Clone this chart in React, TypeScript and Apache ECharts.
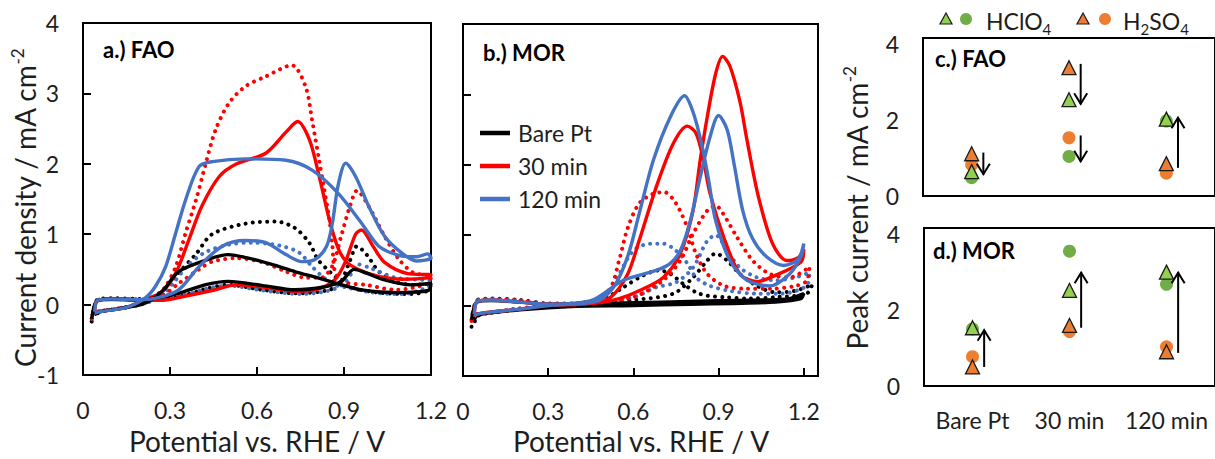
import React, { useEffect, useRef } from "react";
import * as echarts from "echarts";

// ---------- data ----------
const potentialTicks = [0, 0.3, 0.6, 0.9, 1.2];
const categories = ["Bare Pt", "30 min", "120 min"];

// Panel a: FAO cyclic voltammograms [potential V, current mA cm-2], forward then reverse scan
const faoBareHClO4 = [[0.03,-0.2],[0.05,0.06],[0.1,0.08],[0.2,0.07],[0.26,0.1],[0.33,0.16],[0.42,0.28],[0.5,0.33],[0.62,0.27],[0.73,0.21],[0.83,0.25],[0.89,0.33],[0.935,0.5],[0.975,0.45],[1.04,0.35],[1.13,0.28],[1.2,0.3],[1.19,0.2],[1.08,0.17],[0.96,0.21],[0.87,0.31],[0.81,0.38],[0.73,0.47],[0.66,0.56],[0.57,0.66],[0.5,0.71],[0.43,0.64],[0.33,0.47],[0.28,0.22],[0.24,0.08],[0.2,0.0],[0.12,-0.06],[0.06,-0.1],[0.04,-0.14]];
const faoBareH2SO4 = [[0.03,-0.24],[0.05,0.07],[0.1,0.09],[0.2,0.08],[0.27,0.08],[0.33,0.11],[0.42,0.22],[0.5,0.28],[0.62,0.21],[0.73,0.16],[0.85,0.21],[0.89,0.33],[0.92,0.62],[0.945,0.83],[0.98,0.7],[1.02,0.47],[1.08,0.32],[1.14,0.28],[1.2,0.3],[1.19,0.2],[1.13,0.15],[1.02,0.17],[0.93,0.24],[0.88,0.36],[0.85,0.47],[0.81,0.64],[0.78,0.88],[0.73,1.09],[0.665,1.18],[0.56,1.15],[0.445,1.0],[0.39,0.72],[0.33,0.45],[0.28,0.22],[0.22,0.05],[0.15,-0.04],[0.06,-0.1],[0.04,-0.16]];
const fao30HClO4 = [[0.04,-0.12],[0.05,0.05],[0.1,0.07],[0.2,0.06],[0.27,0.06],[0.33,0.1],[0.445,0.2],[0.53,0.28],[0.62,0.25],[0.73,0.19],[0.81,0.22],[0.87,0.36],[0.906,0.62],[0.94,1.0],[0.96,1.06],[1.0,0.83],[1.04,0.6],[1.12,0.44],[1.2,0.42],[1.19,0.38],[1.1,0.36],[1.02,0.4],[0.96,0.48],[0.91,0.6],[0.88,0.8],[0.85,1.2],[0.81,1.9],[0.78,2.35],[0.74,2.6],[0.7,2.45],[0.63,2.15],[0.53,2.0],[0.47,1.82],[0.41,1.4],[0.365,0.92],[0.32,0.45],[0.27,0.17],[0.216,0.08],[0.15,-0.04],[0.06,-0.1],[0.04,-0.14]];
const fao30H2SO4 = [[0.03,-0.2],[0.05,0.06],[0.1,0.08],[0.2,0.07],[0.27,0.12],[0.33,0.3],[0.4,0.5],[0.445,0.61],[0.53,0.66],[0.62,0.6],[0.7,0.47],[0.77,0.38],[0.82,0.38],[0.86,0.55],[0.89,0.97],[0.92,1.39],[0.945,1.62],[0.986,1.39],[1.04,0.97],[1.09,0.64],[1.14,0.45],[1.2,0.4],[1.19,0.3],[1.08,0.21],[0.975,0.28],[0.9,0.32],[0.87,0.45],[0.86,0.83],[0.85,1.2],[0.83,1.68],[0.814,2.06],[0.79,2.62],[0.768,3.09],[0.72,3.4],[0.63,3.24],[0.56,3.1],[0.503,2.86],[0.457,2.48],[0.423,2.0],[0.39,1.49],[0.354,1.02],[0.32,0.54],[0.285,0.26],[0.25,0.12],[0.18,0.0],[0.1,-0.07],[0.05,-0.1],[0.04,-0.15]];
const fao120HClO4 = [[0.04,-0.1],[0.05,0.06],[0.1,0.08],[0.2,0.07],[0.26,0.1],[0.33,0.21],[0.4,0.54],[0.48,0.83],[0.56,0.91],[0.63,0.88],[0.7,0.71],[0.755,0.61],[0.8,0.64],[0.84,0.83],[0.86,1.16],[0.88,1.7],[0.906,2.01],[0.94,1.82],[0.986,1.39],[1.04,0.97],[1.1,0.73],[1.15,0.62],[1.2,0.66],[1.19,0.72],[1.15,0.68],[1.09,0.7],[1.02,0.83],[0.96,1.16],[0.88,1.58],[0.79,1.91],[0.7,2.05],[0.56,2.07],[0.446,2.03],[0.4,1.96],[0.354,1.49],[0.32,1.02],[0.285,0.54],[0.25,0.26],[0.216,0.1],[0.15,-0.04],[0.06,-0.1],[0.04,-0.12]];
const fao120H2SO4 = [[0.03,-0.2],[0.05,0.06],[0.1,0.08],[0.2,0.07],[0.27,0.08],[0.33,0.11],[0.42,0.22],[0.5,0.27],[0.62,0.2],[0.75,0.15],[0.85,0.2],[0.9,0.3],[0.93,0.47],[0.95,0.57],[0.99,0.52],[1.08,0.38],[1.2,0.33],[1.19,0.25],[1.1,0.15],[1.0,0.17],[0.9,0.25],[0.87,0.28],[0.825,0.4],[0.79,0.54],[0.745,0.74],[0.675,0.84],[0.58,0.88],[0.5,0.85],[0.42,0.74],[0.36,0.55],[0.31,0.3],[0.27,0.12],[0.2,0.0],[0.1,-0.07],[0.05,-0.1],[0.04,-0.15]];

// Panel b: MOR cyclic voltammograms
const morBareHClO4 = [[0.03,-0.2],[0.05,0.05],[0.1,0.07],[0.2,0.05],[0.3,0.02],[0.5,0.03],[0.7,0.05],[0.9,0.07],[1.05,0.08],[1.15,0.1],[1.2,0.17],[1.19,0.1],[1.1,0.05],[0.95,0.03],[0.8,0.02],[0.6,0.0],[0.4,-0.01],[0.3,-0.03],[0.2,-0.06],[0.1,-0.1],[0.05,-0.14],[0.04,-0.2]];
const morBareH2SO4 = [[0.03,-0.3],[0.05,0.08],[0.1,0.1],[0.2,0.08],[0.3,0.03],[0.45,0.03],[0.6,0.08],[0.74,0.17],[0.81,0.4],[0.86,0.64],[0.89,0.74],[0.93,0.64],[0.975,0.45],[1.035,0.28],[1.1,0.19],[1.17,0.21],[1.23,0.3],[1.21,0.17],[1.1,0.12],[1.01,0.1],[0.92,0.12],[0.86,0.14],[0.82,0.19],[0.775,0.31],[0.73,0.45],[0.69,0.5],[0.635,0.43],[0.565,0.26],[0.5,0.1],[0.4,0.0],[0.3,-0.02],[0.2,-0.05],[0.1,-0.1],[0.05,-0.15],[0.04,-0.25]];
const mor30HClO4 = [[0.04,-0.12],[0.05,0.06],[0.1,0.08],[0.2,0.05],[0.3,0.02],[0.45,0.03],[0.55,0.1],[0.62,0.21],[0.705,0.4],[0.765,0.74],[0.81,1.35],[0.835,2.06],[0.86,2.68],[0.89,3.3],[0.914,3.54],[0.94,3.4],[0.975,2.9],[1.0,2.35],[1.04,1.55],[1.09,0.88],[1.14,0.64],[1.18,0.68],[1.2,0.8],[1.19,0.62],[1.1,0.43],[1.035,0.34],[0.975,0.45],[0.92,0.95],[0.87,1.59],[0.845,2.1],[0.82,2.45],[0.79,2.55],[0.74,2.3],[0.68,1.68],[0.62,0.92],[0.58,0.45],[0.52,0.12],[0.45,0.03],[0.3,0.0],[0.2,-0.05],[0.1,-0.09],[0.05,-0.12],[0.04,-0.16]];
const mor30H2SO4 = [[0.03,-0.22],[0.05,0.07],[0.1,0.09],[0.2,0.07],[0.3,0.02],[0.45,0.03],[0.6,0.12],[0.705,0.36],[0.765,0.64],[0.81,1.02],[0.86,1.35],[0.89,1.42],[0.915,1.31],[0.965,0.97],[1.02,0.64],[1.08,0.45],[1.15,0.4],[1.22,0.55],[1.21,0.35],[1.17,0.28],[1.09,0.24],[1.0,0.24],[0.92,0.28],[0.86,0.45],[0.82,0.74],[0.79,1.11],[0.75,1.45],[0.71,1.61],[0.67,1.59],[0.62,1.45],[0.58,1.1],[0.55,0.65],[0.52,0.25],[0.47,0.08],[0.3,0.0],[0.2,-0.04],[0.1,-0.1],[0.05,-0.12],[0.04,-0.2]];
const mor120HClO4 = [[0.04,-0.12],[0.05,0.06],[0.1,0.08],[0.2,0.05],[0.3,0.02],[0.45,0.07],[0.565,0.36],[0.68,0.5],[0.73,0.6],[0.765,0.78],[0.8,1.2],[0.835,1.82],[0.87,2.4],[0.9,2.7],[0.93,2.5],[0.955,2.0],[0.985,1.35],[1.02,0.95],[1.07,0.69],[1.13,0.57],[1.18,0.66],[1.2,0.88],[1.19,0.7],[1.15,0.45],[1.08,0.28],[1.0,0.36],[0.94,0.64],[0.89,1.2],[0.865,1.78],[0.84,2.3],[0.81,2.75],[0.78,2.98],[0.73,2.68],[0.67,2.06],[0.62,1.3],[0.58,0.7],[0.53,0.26],[0.47,0.06],[0.3,0.0],[0.2,-0.05],[0.1,-0.09],[0.05,-0.12],[0.04,-0.15]];
const mor120H2SO4 = [[0.03,-0.2],[0.05,0.07],[0.1,0.09],[0.2,0.07],[0.3,0.02],[0.45,0.03],[0.6,0.12],[0.68,0.26],[0.75,0.33],[0.81,0.54],[0.86,0.92],[0.89,1.0],[0.93,0.78],[0.975,0.54],[1.035,0.4],[1.1,0.36],[1.17,0.4],[1.22,0.47],[1.21,0.28],[1.12,0.17],[1.03,0.17],[0.94,0.21],[0.87,0.28],[0.82,0.4],[0.79,0.6],[0.75,0.78],[0.705,0.88],[0.66,0.88],[0.6,0.78],[0.55,0.45],[0.5,0.15],[0.45,0.04],[0.3,0.0],[0.2,-0.04],[0.1,-0.1],[0.05,-0.12],[0.04,-0.2]];

// Panels c / d: peak currents (triangle = reverse-scan peak, circle = forward-scan peak)
const faoHClO4Triangle = [0.64, 2.53, 2.02];
const faoHClO4Circle = [0.48, 1.04, 1.97];
const faoH2SO4Triangle = [1.11, 3.37, 0.85];
const faoH2SO4Circle = [0.82, 1.53, 0.6];
const morHClO4Triangle = [1.53, 2.51, 2.99];
const morHClO4Circle = [1.5, 3.54, 2.67];
const morH2SO4Triangle = [0.5, 1.59, 0.9];
const morH2SO4Circle = [0.77, 1.43, 1.03];

// arrows: [category index, from value, to value]
const faoArrows = [[0, 1.14, 0.56], [1, 3.47, 2.41], [1, 1.59, 0.9], [2, 0.74, 2.07]];
const morArrows = [[0, 0.5, 1.48], [1, 1.53, 2.99], [2, 0.87, 2.99]];

// ---------- styles ----------
const FONT = "Lato, 'Open Sans', sans-serif";
const TXT = "#1e1e1e";
const BLACK = "#000000";
const RED = "#ff0000";
const BLUE = "#4472c4";
const GREEN_TRI = "#92d050";
const GREEN_CIR = "#70ad47";
const ORANGE = "#ed7d31";

const solid = (color: string) => ({ color, width: 3.4, type: "solid" as const });
const dotted = (color: string) => ({ color, width: 4, type: [0.01, 7.2], cap: "round" as const });

function cvSeries(name: string, data: number[][], idx: number, style: any, z: number) {
  return {
    name, type: "line", data, xAxisIndex: idx, yAxisIndex: idx,
    showSymbol: false, symbol: "none", smooth: 0.3, lineStyle: style, z,
    silent: true, clip: true,
  };
}

function scatter(values: number[], idx: number, symbol: string, color: string, border: boolean, z: number) {
  return {
    type: "scatter", xAxisIndex: idx, yAxisIndex: idx,
    data: values.map((v, i) => [i, v]),
    symbol, symbolSize: symbol === "triangle" ? 14 : 13, z,
    itemStyle: { color, borderColor: border ? "#1a1a1a" : color, borderWidth: border ? 1.3 : 0, opacity: 1 },
    silent: true,
  };
}

function arrowSeries(data: number[][], idx: number) {
  return {
    type: "custom", xAxisIndex: idx, yAxisIndex: idx, data, z: 10, silent: true,
    encode: { x: 0, y: [1, 2] },
    renderItem: (params: any, api: any) => {
      const c = api.value(0), v0 = api.value(1), v1 = api.value(2);
      const p0 = api.coord([c, v0]);
      const p1 = api.coord([c, v1]);
      const bw = api.size([1, 0])[0];
      const x = p0[0] + bw * 0.12;
      const dir = p1[1] < p0[1] ? 1 : -1;
      return {
        type: "group",
        children: [
          { type: "line", shape: { x1: x, y1: p0[1], x2: x, y2: p1[1] }, style: { stroke: "#000", lineWidth: 2 } },
          { type: "polyline", shape: { points: [[x - 6.5, p1[1] + dir * 11], [x, p1[1] + dir * 0.5], [x + 6.5, p1[1] + dir * 11]] }, style: { stroke: "#000", lineWidth: 2, fill: "none" } },
        ],
      };
    },
  };
}

const tickStyle = { inside: true, length: 8, lineStyle: { color: "#000", width: 2 } };
const noLine = { show: false, onZero: false };

function App() {
  const ref = useRef<HTMLDivElement>(null);
  useEffect(() => {
    if (!ref.current) return;
    const chart = echarts.init(ref.current, undefined, { renderer: "svg" });
    const potFmt = (v: number) => {
      const hit = potentialTicks.find((t) => Math.abs(t - v) < 1e-6);
      return hit === undefined ? "" : hit === 0 ? "0" : hit.toFixed(1);
    };
    const evenFmt = (v: number) => (Math.abs(v - Math.round(v)) < 1e-6 && Math.round(v) % 2 === 0 ? String(Math.round(v)) : "");
    const labelBase = { fontFamily: FONT, fontSize: 23, color: TXT };

    const gridBase = { show: true, borderColor: "#000", borderWidth: 2, backgroundColor: "transparent" };

    const title = (x: number, y: number, main: string, sup: string, rot: number) => ({
      type: "text", x, y, rotation: rot, silent: true,
      style: {
        text: `{m|${main}}{s|${sup}}`,
        align: "center", verticalAlign: "middle",
        rich: {
          m: { fontFamily: FONT, fontSize: 28, fill: TXT, lineHeight: 32, verticalAlign: "middle" },
          s: { fontFamily: FONT, fontSize: 17, fill: TXT, lineHeight: 32, verticalAlign: "top", padding: [0, 0, 14, 0] },
        },
      },
    });
    const plain = (x: number, y: number, text: string, size: number, bold = false, align = "left") => ({
      type: "text", x, y, silent: true,
      style: { text, fontFamily: FONT, fontSize: size, fontWeight: bold ? "bold" : "normal", fill: bold ? "#000" : TXT, align, verticalAlign: "middle" },
    });
    const legendLine = (y: number, color: string, text: string) => [
      { type: "line", silent: true, shape: { x1: 480, y1: y, x2: 510, y2: y }, style: { stroke: color, lineWidth: 4.5 } },
      plain(518, y, text, 23),
    ];
    const tri = (cx: number, cy: number, fill: string) => ({
      type: "polygon", silent: true,
      shape: { points: [[cx, cy - 6], [cx + 6, cy + 5], [cx - 6, cy + 5]] },
      style: { fill, stroke: "#1a1a1a", lineWidth: 1.2 },
    });
    const dot = (cx: number, cy: number, fill: string) => ({ type: "circle", silent: true, shape: { cx, cy, r: 6 }, style: { fill } });
    const subText = (x: number, y: number, parts: [string, boolean][]) => ({
      type: "text", x, y, silent: true,
      style: {
        text: parts.map(([t, sub]) => (sub ? `{b|${t}}` : `{a|${t}}`)).join(""),
        align: "left", verticalAlign: "middle",
        rich: {
          a: { fontFamily: FONT, fontSize: 23, fill: TXT, lineHeight: 30, verticalAlign: "middle" },
          b: { fontFamily: FONT, fontSize: 15, fill: TXT, lineHeight: 30, verticalAlign: "bottom" },
        },
      },
    });

    const option: any = {
      animation: false,
      backgroundColor: "#fff",
      grid: [
        { ...gridBase, left: 83, top: 23, width: 348, height: 352 },
        { ...gridBase, left: 463, top: 24, width: 355, height: 352 },
        { ...gridBase, left: 923, top: 38, width: 296, height: 158 },
        { ...gridBase, left: 924, top: 228, width: 296, height: 158 },
      ],
      xAxis: [
        { gridIndex: 0, type: "value", min: 0, max: 1.2, interval: 0.3, axisLine: noLine, axisTick: tickStyle, splitLine: { show: false }, axisLabel: { ...labelBase, margin: 23, formatter: potFmt, showMaxLabel: true, showMinLabel: true } },
        { gridIndex: 1, type: "value", min: 0, max: 1.25, interval: 0.3, axisLine: noLine, axisTick: tickStyle, splitLine: { show: false }, axisLabel: { ...labelBase, margin: 23, formatter: potFmt } },
        { gridIndex: 2, type: "category", data: categories, boundaryGap: true, axisLine: noLine, axisTick: { ...tickStyle, length: 6, alignWithLabel: true }, axisLabel: { show: false }, splitLine: { show: false } },
        { gridIndex: 3, type: "category", data: categories, boundaryGap: true, axisLine: noLine, axisTick: { ...tickStyle, length: 6, alignWithLabel: true }, axisLabel: { ...labelBase, margin: 22, interval: 0 }, splitLine: { show: false } },
      ],
      yAxis: [
        { gridIndex: 0, type: "value", min: -1, max: 4, interval: 1, axisLine: noLine, axisTick: tickStyle, splitLine: { show: false }, axisLabel: { ...labelBase, margin: 24 } },
        { gridIndex: 1, type: "value", min: -1, max: 4, interval: 1, axisLine: noLine, axisTick: tickStyle, splitLine: { show: false }, axisLabel: { show: false } },
        { gridIndex: 2, type: "value", min: 0, max: 4.15, interval: 1, axisLine: noLine, axisTick: { ...tickStyle, length: 7 }, splitLine: { show: false }, axisLabel: { ...labelBase, margin: 24, formatter: evenFmt } },
        { gridIndex: 3, type: "value", min: 0, max: 4.15, interval: 1, axisLine: noLine, axisTick: { ...tickStyle, length: 7 }, splitLine: { show: false }, axisLabel: { ...labelBase, margin: 24, formatter: evenFmt } },
      ],
      series: [
        cvSeries("FAO Bare Pt H2SO4", faoBareH2SO4, 0, dotted(BLACK), 2),
        cvSeries("FAO 120 min H2SO4", fao120H2SO4, 0, dotted(BLUE), 2),
        cvSeries("FAO 30 min H2SO4", fao30H2SO4, 0, dotted(RED), 2),
        cvSeries("FAO 30 min HClO4", fao30HClO4, 0, solid(RED), 3),
        cvSeries("FAO Bare Pt HClO4", faoBareHClO4, 0, solid(BLACK), 3),
        cvSeries("FAO 120 min HClO4", fao120HClO4, 0, solid(BLUE), 3),
        cvSeries("MOR Bare Pt H2SO4", morBareH2SO4, 1, dotted(BLACK), 2),
        cvSeries("MOR 120 min H2SO4", mor120H2SO4, 1, dotted(BLUE), 2),
        cvSeries("MOR 30 min H2SO4", mor30H2SO4, 1, dotted(RED), 2),
        cvSeries("MOR Bare Pt HClO4", morBareHClO4, 1, solid(BLACK), 3),
        cvSeries("MOR 30 min HClO4", mor30HClO4, 1, solid(RED), 3),
        cvSeries("MOR 120 min HClO4", mor120HClO4, 1, solid(BLUE), 3),
        scatter(faoHClO4Circle, 2, "circle", GREEN_CIR, false, 4),
        scatter(faoH2SO4Circle, 2, "circle", ORANGE, false, 4),
        scatter(faoHClO4Triangle, 2, "triangle", GREEN_TRI, true, 5),
        scatter(faoH2SO4Triangle, 2, "triangle", ORANGE, true, 5),
        scatter(morHClO4Circle, 3, "circle", GREEN_CIR, false, 4),
        scatter(morH2SO4Circle, 3, "circle", ORANGE, false, 4),
        scatter(morHClO4Triangle, 3, "triangle", GREEN_TRI, true, 5),
        scatter(morH2SO4Triangle, 3, "triangle", ORANGE, true, 5),
        arrowSeries(faoArrows, 2),
        arrowSeries(morArrows, 3),
      ],
      graphic: [
        title(25, 208, "Current density / mA cm", "-2", Math.PI / 2),
        title(857, 208, "Peak current / mA cm", "-2", Math.PI / 2),
        plain(257, 441, "Potential vs. RHE / V", 28, false, "center"),
        plain(641, 441, "Potential vs. RHE / V", 28, false, "center"),
        plain(103, 49, "a.) FAO", 22, true),
        plain(483, 52, "b.) MOR", 22, true),
        plain(935, 58, "c.) FAO", 22, true),
        plain(933, 250, "d.) MOR", 22, true),
        ...legendLine(133, BLACK, "Bare Pt"),
        ...legendLine(166, RED, "30 min"),
        ...legendLine(199, BLUE, "120 min"),
        tri(946, 19, GREEN_TRI),
        dot(966, 19, GREEN_CIR),
        subText(986, 21, [["HClO", false], ["4", true]]),
        tri(1083, 19, ORANGE),
        dot(1105, 19, ORANGE),
        subText(1123, 21, [["H", false], ["2", true], ["SO", false], ["4", true]]),
      ],
    };
    chart.setOption(option);
    return () => chart.dispose();
  }, []);
  return <div ref={ref} style={{ position: "fixed", left: 0, top: 0, width: 1215, height: 459, background: "#fff" }} />;
}

export default App;
